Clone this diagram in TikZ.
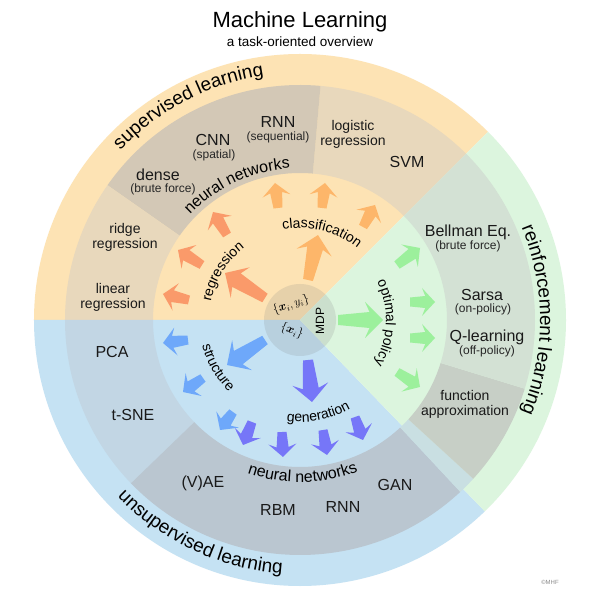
\documentclass[tikz,border=0pt]{standalone}
\usepackage{fontspec}
\setmainfont{Liberation Sans}
\usepackage{amsmath}
\usetikzlibrary{decorations.text}

\definecolor{orW}{HTML}{FDE3B4}
\definecolor{orL}{HTML}{E8D8BC}
\definecolor{orD}{HTML}{D3C8B6}
\definecolor{blW}{HTML}{C5E2F3}
\definecolor{blL}{HTML}{C2D6E4}
\definecolor{blD}{HTML}{BAC6D0}
\definecolor{grW}{HTML}{DCF5DE}
\definecolor{grL}{HTML}{D3E1D4}
\definecolor{grD}{HTML}{C7CFC6}
\definecolor{stripc}{HTML}{C9DFE2}
\definecolor{arReg}{HTML}{FA9A6A}
\definecolor{arCls}{HTML}{FDB66A}
\definecolor{arPol}{HTML}{9CF09C}
\definecolor{arStr}{HTML}{6EA8FA}
\definecolor{arGen}{HTML}{7676F8}

% annular sector: color, a1, a2, r1, r2
\newcommand\annsect[5]{\fill[#1] (#2:#4) arc[start angle=#2, end angle=#3, radius=#4] -- (#3:#5) arc[start angle=#3, end angle=#2, radius=#5] -- cycle;}
% pie slice: color, a1, a2, r
\newcommand\pieslice[4]{\fill[#1] (0,0) -- (#2:#4) arc[start angle=#2, end angle=#3, radius=#4] -- cycle;}

\newcommand\arrszs{\def\fwa{4.5}\def\fwb{6}\def\fhw{14}\def\fhl{13}}
\newcommand\arrszb{\def\fwa{5}\def\fwb{8}\def\fhw{18}\def\fhl{18}}
% fat arrow: color, x1, y1, x2, y2, size (s/b)
\newcommand\fatarr[6]{%
  \pgfmathsetmacro\fa{atan2((#5)-(#3),(#4)-(#2))}%
  \pgfmathsetmacro\fl{veclen((#4)-(#2),(#5)-(#3))}%
  \begin{scope}[shift={(#2,#3)},rotate=\fa]
  \csname arrsz#6\endcsname
  \fill[#1] (0,-\fwa) -- (\fl-0.75*\fhl,-\fwb) -- (\fl-\fhl,-\fhw) -- (\fl,0)
     -- (\fl-\fhl,\fhw) -- (\fl-0.75*\fhl,\fwb) -- (0,\fwa) -- cycle;
  \end{scope}}

\tikzset{
  lbl/.style={font=\fontsize{16}{17}\selectfont, align=center, inner sep=0pt, text=black!90},
  lbs/.style={font=\fontsize{14}{15}\selectfont, align=center, inner sep=0pt, text=black!90},
  lbp/.style={font=\fontsize{12}{13}\selectfont, align=center, inner sep=0pt, text=black!85},
  arctext/.style={decorate, decoration={text along path, text align=center, text={#1}}}
}
\newcommand\fRing{\fontsize{19}{19}\selectfont}
\newcommand\fNN{\fontsize{16}{16}\selectfont}
\newcommand\fIn{\fontsize{14}{14}\selectfont}

\begin{document}
\begin{tikzpicture}[x=1pt,y=1pt]
\useasboundingbox (-300,-271) rectangle (291,320);
\fill[white] (-300,-271) rectangle (291,320);

% main sectors
\pieslice{orW}{45}{180}{266}
\pieslice{blW}{180}{314}{266}
\pieslice{grW}{-46}{45}{266}

% middle (gray) ring
\annsect{orL}{45}{85}{147}{235}
\annsect{orD}{85}{145}{147}{235}
\annsect{orL}{145}{180}{147}{235}
\annsect{blL}{180}{224}{147}{235}
\annsect{blD}{224}{313}{147}{235}
\annsect{stripc}{313}{317.5}{147}{235}
\annsect{grD}{-42.5}{-17}{147}{235}
\annsect{grL}{-17}{45}{147}{235}

% arrows: regression
\fatarr{arReg}{-111}{20}{-137}{26}{s}
\fatarr{arReg}{-98}{55}{-122}{70}{s}
\fatarr{arReg}{-73}{85}{-87}{108}{s}
\fatarr{arReg}{-35}{22}{-75}{47}{b}
% classification
\fatarr{arCls}{-22}{112}{-25}{137}{s}
\fatarr{arCls}{22}{112}{25}{137}{s}
\fatarr{arCls}{63}{93}{75}{115}{s}
\fatarr{arCls}{8}{40}{18}{85}{b}
% optimal policy
\fatarr{arPol}{97}{55}{120}{72}{s}
\fatarr{arPol}{110}{18}{135}{18}{s}
\fatarr{arPol}{110}{-18}{135}{-18}{s}
\fatarr{arPol}{97}{-52}{120}{-67}{s}
\fatarr{arPol}{38}{0}{83}{0}{b}
% structure
\fatarr{arStr}{-112}{-20}{-137}{-23}{s}
\fatarr{arStr}{-97}{-58}{-117}{-72}{s}
\fatarr{arStr}{-67}{-92}{-80}{-110}{s}
\fatarr{arStr}{-35}{-20}{-73}{-45}{b}
% generation
\fatarr{arGen}{-48}{-102}{-57}{-125}{s}
\fatarr{arGen}{-18}{-112}{-17}{-137}{s}
\fatarr{arGen}{23}{-110}{27}{-135}{s}
\fatarr{arGen}{55}{-97}{63}{-120}{s}
\fatarr{arGen}{8}{-40}{12}{-82}{b}

% center circle
\fill[gray, opacity=0.18] (0,0) circle[radius=36];
\node[rotate=18, font=\fontsize{12}{12}\selectfont] (xy) at (-9,15) {$\{\boldsymbol{x}_i,y_i\}$};
\node[rotate=-20, font=\fontsize{12}{12}\selectfont] (xx) at (-8,-11) {$\{\boldsymbol{x}_i\}$};
\node[rotate=90, font=\fontsize{12}{12}\selectfont] (mdp) at (20,-1) {MDP};

% ring titles
\path[arctext={|\fRing|supervised learning}] (175:247) arc[start angle=175, end angle=60, radius=247];
\path[arctext={|\fRing|reinforcement learning}] (60:240) arc[start angle=60, end angle=-60, radius=240];
\path[arctext={|\fRing|unsupervised learning}] (185:254) arc[start angle=185, end angle=305, radius=254];
\path[arctext={|\fNN|neural networks}] (175:152) arc[start angle=175, end angle=55, radius=152];
\path[arctext={|\fNN|neural networks}] (211:162) arc[start angle=211, end angle=331, radius=162];
% inner task labels
\path[arctext={|\fIn|regression}] (208:91) arc[start angle=208, end angle=88, radius=91];
\path[arctext={|\fIn|classification}] (136:92) arc[start angle=136, end angle=16, radius=92];
\path[arctext={|\fIn|optimal policy}] (58:86) arc[start angle=58, end angle=-62, radius=86];
\path[arctext={|\fIn|structure}] (150:101) arc[start angle=150, end angle=270, radius=101];
\path[arctext={|\fIn|generation}] (221:102) arc[start angle=221, end angle=341, radius=102];

% method labels
\node[lbs] (lin) at (-187,23) {linear\\regression};
\node[lbs] (ridge) at (-175,83) {ridge\\regression};
\node[lbl] (dense) at (-142,145) {dense};
\node[lbp] (denseb) at (-137,131) {(brute force)};
\node[lbl] (cnn) at (-87,180) {CNN};
\node[lbp] (cnnb) at (-86,165) {(spatial)};
\node[lbl] (rnn) at (-22,198) {RNN};
\node[lbp] (rnnb) at (-22,183) {(sequential)};
\node[lbs] (logi) at (53,185.5) {logistic\\regression};
\node[lbl] (svm) at (107,158) {SVM};
\node[lbl] (bell) at (168,88) {Bellman Eq.};
\node[lbp] (bellb) at (168,74) {(brute force)};
\node[lbl] (sarsa) at (182,25) {Sarsa};
\node[lbp] (sarsab) at (183,11) {(on-policy)};
\node[lbl] (ql) at (187,-17) {Q-learning};
\node[lbp] (qlb) at (187,-31) {(off-policy)};
\node[lbs] (fa) at (165,-84.5) {function\\approximation};
\node[lbl] (pca) at (-188,-32) {PCA};
\node[lbl] (tsne) at (-167,-95) {t-SNE};
\node[lbl] (vae) at (-97,-163) {(V)AE};
\node[lbl] (rbm) at (-22,-190) {RBM};
\node[lbl] (rnn2) at (43,-187) {RNN};
\node[lbl] (gan) at (95,-165) {GAN};

% titles
\node[font=\fontsize{22}{22}\selectfont, inner sep=0pt] (title) at (0,298) {Machine Learning};
\node[font=\fontsize{13.5}{13.5}\selectfont, inner sep=0pt] (sub) at (0,278) {a task-oriented overview};
\node[font=\fontsize{6}{6}\selectfont, text=black!45, inner sep=0pt] (cr) at (250,-262) {©MHF};
\end{tikzpicture}
\end{document}
